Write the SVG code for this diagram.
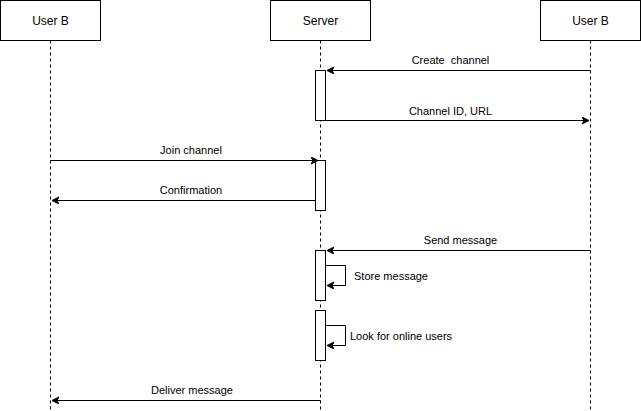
<svg xmlns="http://www.w3.org/2000/svg" width="641" height="411" viewBox="0 0 641 411">
<style>
.box{fill:#fff;stroke:#000;stroke-width:1}
.life{stroke:#000;stroke-width:1;stroke-dasharray:3 3;fill:none}
.msg{stroke:#000;stroke-width:1;fill:none;marker-end:url(#ah)}
.t{font-family:"Liberation Sans",Arial,sans-serif;font-size:12px;fill:#000;text-anchor:middle;dominant-baseline:central}
.l{font-family:"Liberation Sans",Arial,sans-serif;font-size:11px;fill:#000;white-space:pre}
.c{text-anchor:middle}
</style>
<defs>
<marker id="ah" markerWidth="10" markerHeight="10" refX="7" refY="3.5" orient="auto" markerUnits="userSpaceOnUse">
<path d="M0,0 L7,3.5 L0,7 L2,3.5 Z" fill="#000" stroke="#000" stroke-width="1"/>
</marker>
</defs>
<g id="lifelines">
<line class="life" x1="50.5" y1="40.5" x2="50.5" y2="411"/>
<line class="life" x1="320.5" y1="40.5" x2="320.5" y2="411"/>
<line class="life" x1="590.5" y1="40.5" x2="590.5" y2="411"/>
</g>
<g id="userB-left"><rect class="box" x="0.5" y="0.5" width="100" height="40"/><text class="t" x="50.5" y="20.5">User B</text></g>
<g id="server"><rect class="box" x="270.5" y="0.5" width="100" height="40"/><text class="t" x="320.5" y="20.5">Server</text></g>
<g id="userB-right"><rect class="box" x="540.5" y="0.5" width="100" height="40"/><text class="t" x="590.5" y="20.5">User B</text></g>
<g id="activations">
<rect class="box" x="315.5" y="70.5" width="10" height="50"/>
<rect class="box" x="315.5" y="160.5" width="10" height="50"/>
<rect class="box" x="315.5" y="250.5" width="10" height="50"/>
<rect class="box" x="315.5" y="310.5" width="10" height="50"/>
</g>
<g id="connectors">
<line class="msg" x1="590.5" y1="70.5" x2="327" y2="70.5"/>
<line class="msg" x1="325.5" y1="120.5" x2="589" y2="120.5"/>
<line class="msg" x1="50.5" y1="160.5" x2="318" y2="160.5"/>
<line class="msg" x1="315.5" y1="200.5" x2="52" y2="200.5"/>
<line class="msg" x1="590.5" y1="250.5" x2="327" y2="250.5"/>
<polyline class="msg" points="325.5,265.5 345.5,265.5 345.5,285.5 327,285.5"/>
<polyline class="msg" points="325.5,325.5 345.5,325.5 345.5,345.5 327,345.5"/>
<line class="msg" x1="320.5" y1="400.5" x2="52" y2="400.5"/>
</g>
<g id="labels">
<text class="l c" x="450.5" y="64">Create  channel</text>
<text class="l c" x="450.5" y="115">Channel ID, URL</text>
<text class="l c" x="191" y="154">Join channel</text>
<text class="l c" x="191" y="194">Confirmation</text>
<text class="l c" x="460.5" y="244">Send message</text>
<text class="l" x="354" y="280">Store message</text>
<text class="l" x="350" y="340">Look for online users</text>
<text class="l c" x="192" y="394">Deliver message</text>
</g>
</svg>
